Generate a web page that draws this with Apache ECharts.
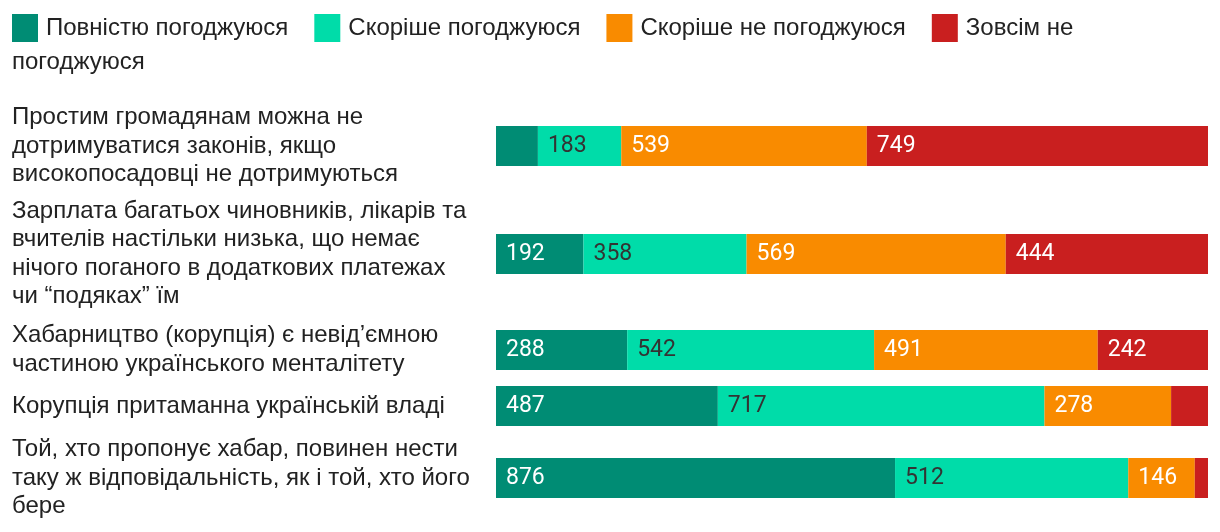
<!DOCTYPE html>
<html>
<head>
<meta charset="utf-8">
<script src="https://cdn.jsdelivr.net/npm/echarts@6/dist/echarts.min.js"></script>
<style>
html,body{margin:0;padding:0;background:#fff;}
#chart{width:1220px;height:532px;}
</style>
</head>
<body>
<div id="chart"></div>
<script>
// ---- data ----
const categories = [
  'Простим громадянам можна не\nдотримуватися законів, якщо\nвисокопосадовці не дотримуються',
  'Зарплата багатьох чиновників, лікарів та\nвчителів настільки низька, що немає\nнічого поганого в додаткових платежах\nчи “подяках” їм',
  'Хабарництво (корупція) є невід’ємною\nчастиною українського менталітету',
  'Корупція притаманна українській владі',
  'Той, хто пропонує хабар, повинен нести\nтаку ж відповідальність, як і той, хто його\nбере'
];
const seriesNames = ['Повністю погоджуюся', 'Скоріше погоджуюся', 'Скоріше не погоджуюся', 'Зовсім не погоджуюся'];
const fullyAgree     = [92, 192, 288, 487, 876];
const ratherAgree    = [183, 358, 542, 717, 512];
const ratherDisagree = [539, 569, 491, 278, 146];
const fullyDisagree  = [749, 444, 242, 81, 29];

// ---- layout (not data) ----
const rowSlots = [0, 27, 51, 65, 83];   // uneven row spacing like the reference (category slots)
const slotCount = 84;
const colors = ['#008c74', '#00dca9', '#f98b00', '#c91f1f'];
const labelColors = ['#ffffff', '#333333', '#ffffff', '#ffffff'];
const textFont = 'Liberation Sans';

const slotCats = [];
for (let i = 0; i < slotCount; i++) slotCats.push('');
rowSlots.forEach((s, i) => { slotCats[s] = categories[i]; });

function toSlots(arr) {
  const out = [];
  for (let i = 0; i < slotCount; i++) out.push('-');
  rowSlots.forEach((s, i) => { out[s] = arr[i]; });
  return out;
}
const valueSets = [fullyAgree, ratherAgree, ratherDisagree, fullyDisagree];
const totals = categories.map((_, i) => valueSets.reduce((a, v) => a + v[i], 0));
const maxTotal = Math.max.apply(null, totals);

const chart = echarts.init(document.getElementById('chart'), null, {renderer: 'canvas'});
const option = {
  animation: false,
  backgroundColor: '#fff',
  legend: {
    left: 12, top: 14, padding: 0,
    itemWidth: 26, itemHeight: 28, itemGap: 26,
    icon: 'rect',
    selectedMode: false,
    data: seriesNames,
    formatter: function (n) { return n === 'Зовсім не погоджуюся' ? 'Зовсім не' : n; },
    textStyle: {fontFamily: textFont, fontSize: 24, color: '#222', padding: [0, 0, 0, 3]}
  },
  graphic: [{
    type: 'text', left: 12, top: 50,
    style: {text: 'погоджуюся', fontFamily: textFont, fontSize: 24, fill: '#222'}
  }],
  grid: {left: 496, right: 12, top: 144, height: slotCount * 4, containLabel: false},
  xAxis: {type: 'value', min: 0, max: maxTotal, show: false},
  yAxis: {
    type: 'category', inverse: true, data: slotCats,
    axisLine: {show: false}, axisTick: {show: false}, splitLine: {show: false},
    axisLabel: {
      interval: 0, align: 'left', margin: 484,
      fontFamily: textFont, fontSize: 24, lineHeight: 28.5, color: '#222',
      padding: [3, 0, 0, 0]
    }
  },
  series: seriesNames.map((name, k) => ({
    name: name, type: 'bar', stack: 'total', barWidth: 40, clip: false,
    itemStyle: {color: colors[k]},
    label: {
      show: true, position: 'insideLeft', distance: 10,
      fontFamily: 'Roboto', fontSize: 23, color: labelColors[k],
      formatter: function (p) { return p.value >= 100 ? String(p.value) : ''; }
    },
    data: toSlots(valueSets[k])
  }))
};
chart.setOption(option);
</script>
</body>
</html>
